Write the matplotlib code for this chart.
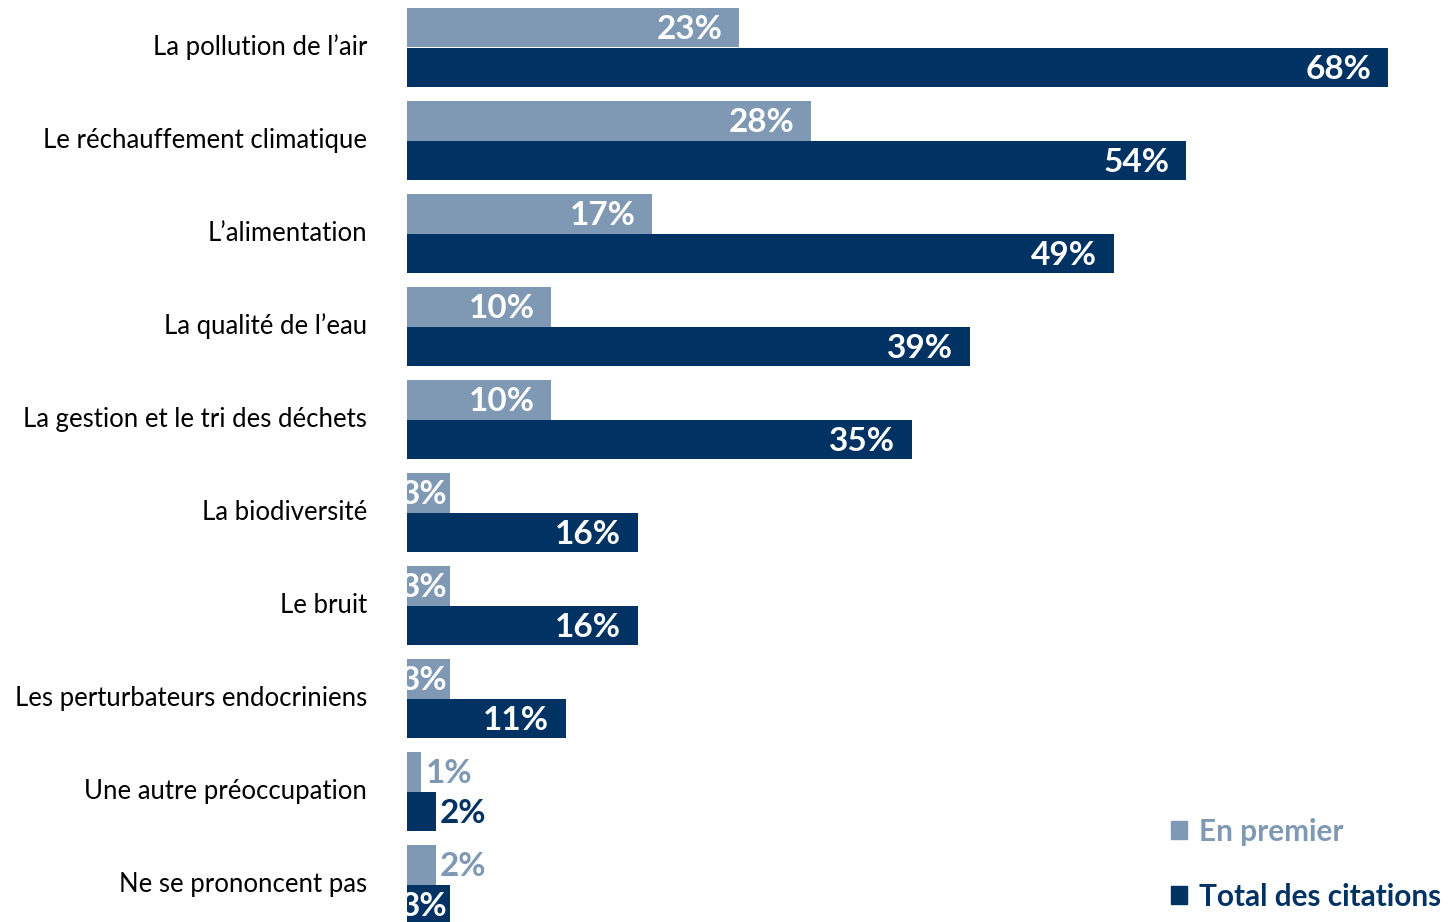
import matplotlib.pyplot as plt
from matplotlib.patches import Patch

plt.rcParams["font.family"] = ["Lato", "DejaVu Sans"]

categories = [
    "La pollution de l’air",
    "Le réchauffement climatique",
    "L’alimentation",
    "La qualité de l’eau",
    "La gestion et le tri des déchets",
    "La biodiversité",
    "Le bruit",
    "Les perturbateurs endocriniens",
    "Une autre préoccupation",
    "Ne se prononcent pas",
]
en_premier = [23, 28, 17, 10, 10, 3, 3, 3, 1, 2]
total_citations = [68, 54, 49, 39, 35, 16, 16, 11, 2, 3]
series_names = ["En premier", "Total des citations"]

LIGHT = "#7F99B4"
DARK = "#003263"

W, H = 1453, 922
fig = plt.figure(figsize=(W / 100, H / 100), dpi=100)
ax = fig.add_axes([407 / W, 0, (1446 - 407) / W, 1])

px_per_unit = (1388 - 407) / 68
ax.set_xlim(0, (1446 - 407) / px_per_unit)
ax.set_ylim((922 - 47.5) / 93, -47.5 / 93)
ax.axis("off")

h = 0.43
ys = list(range(len(categories)))
ax.barh([y - h / 2 for y in ys], en_premier, height=h, color=LIGHT)
ax.barh([y + h / 2 for y in ys], total_citations, height=h, color=DARK)


def label(val, y, color):
    if val >= 3:
        # inside end; narrow bars get the label pushed almost to the edge
        dx = -12 if val * px_per_unit > 60 else -2
        ax.annotate(f"{val}%", (val, y), xytext=(dx, -1.5), textcoords="offset points",
                    ha="right", va="center", color="white", fontsize=24,
                    fontweight="bold", annotation_clip=False, clip_on=True)
    else:
        ax.annotate(f"{val}%", (val, y), xytext=(3, -1.5), textcoords="offset points",
                    ha="left", va="center", color=color, fontsize=24,
                    fontweight="bold")


for y, a, b in zip(ys, en_premier, total_citations):
    label(a, y - h / 2, LIGHT)
    label(b, y + h / 2, DARK)

for y, cat in zip(ys, categories):
    ax.text(-40 / px_per_unit, y, cat, ha="right", va="center", fontsize=18.5,
            color="black", clip_on=False)

handles = [Patch(color=LIGHT), Patch(color=DARK)]
ax.legend(handles, series_names, loc="lower left", bbox_to_anchor=(1144 / W, -0.017),
          bbox_transform=fig.transFigure, frameon=False, labelcolor=[LIGHT, DARK],
          prop={"weight": "bold", "size": 21.4}, handlelength=0.55, handleheight=0.55,
          handletextpad=0.4, labelspacing=1.25)

fig.savefig("out.png", dpi=100)
